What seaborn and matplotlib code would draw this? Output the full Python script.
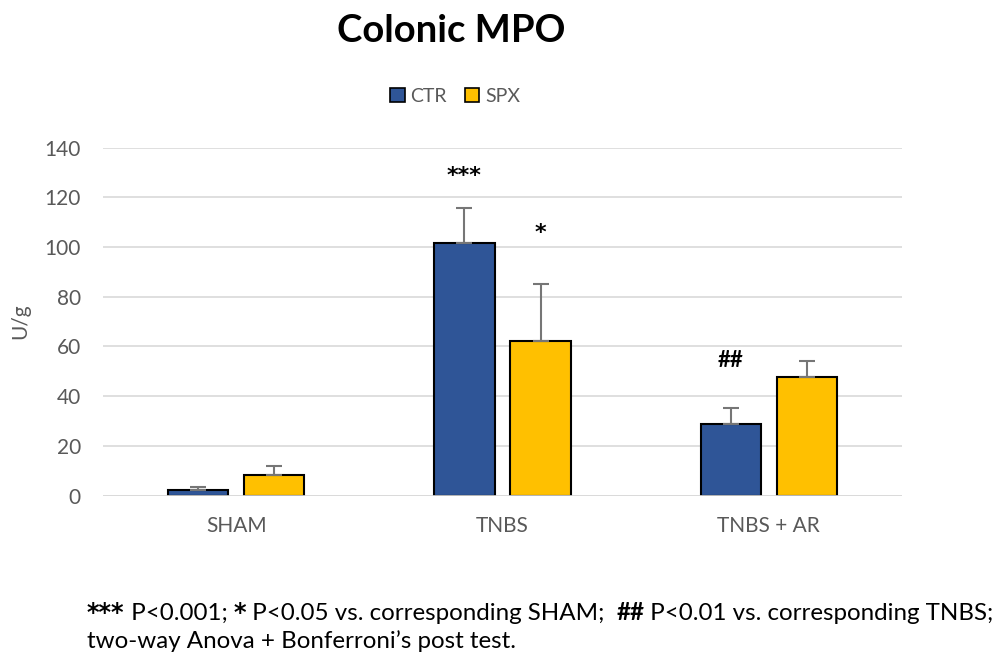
import matplotlib
matplotlib.use("Agg")
import matplotlib.pyplot as plt
import seaborn as sns
import pandas as pd
import numpy as np
from matplotlib.patches import Patch

groups = ["SHAM", "TNBS", "TNBS + AR"]
series = ["CTR", "SPX"]
ctr_mean = [2.4, 101.6, 28.8]
ctr_err = [1.0, 14.0, 6.6]
spx_mean = [8.2, 62.0, 47.7]
spx_err = [3.7, 23.0, 6.4]
yticks = [0, 20, 40, 60, 80, 100, 120, 140]
marks_ctr = ["", "***", "##"]
marks_spx = ["", "*", ""]

sns.set_theme(style="white")
plt.rcParams["font.family"] = ["Lato", "DejaVu Sans"]

df = pd.DataFrame({
    "group": groups * 2,
    "series": ["CTR"] * 3 + ["SPX"] * 3,
    "value": ctr_mean + spx_mean,
})

fig = plt.figure(figsize=(9.97, 6.6), dpi=100)
ax = fig.add_axes([103/997, 1-495.5/660, (902-103)/997, (495.5-147.5)/660])

palette = {"CTR": "#2F5597", "SPX": "#FFC000"}
sns.barplot(data=df, x="group", y="value", hue="series", hue_order=series,
            order=groups, palette=palette, errorbar=None, width=0.571, gap=0.21,
            saturation=1, edgecolor="black", linewidth=1.5, ax=ax, legend=False,
            zorder=3)

ax.set_ylim(0, 140)
ax.set_xlim(-0.5, 2.5)
ax.set_yticks(yticks)
ax.grid(axis="y", color="#d9d9d9", linewidth=1.2, zorder=0)
ax.grid(axis="x", visible=False)
for s in ax.spines.values():
    s.set_visible(False)
ax.tick_params(axis="both", length=0, labelsize=15, labelcolor="#595959")
ax.tick_params(axis="x", pad=15)
ax.tick_params(axis="y", pad=16)
ax.set_xlabel("")
ax.set_ylabel("U/g", fontsize=15, color="#595959", labelpad=10)
ax.axhline(0, color="#d9d9d9", linewidth=1.2, zorder=4)

# error bars (upper only) and significance marks at bar centers
patches = list(ax.patches)[:6]
means = ctr_mean + spx_mean
errs = ctr_err + spx_err
marks = marks_ctr + marks_spx
offset = {"***": 13.0, "*": 20.5, "##": 19.0}
for p, m, e, mk in zip(patches, means, errs, marks):
    xc = p.get_x() + p.get_width() / 2
    ax.errorbar(xc, m, yerr=[[0], [e]], fmt="none", ecolor="#767676",
                elinewidth=1.5, capsize=6, capthick=1.5, zorder=5)
    if mk:
        fam = ["DejaVu Sans"] if "*" in mk else ["Lato"]
        ax.text(xc, m + e + offset[mk], mk, ha="center", va="center",
                fontsize=16, fontweight="bold", color="black", family=fam)

fig.text(451/997, 1-31/660, "Colonic MPO", ha="center", va="center",
         fontsize=27.5, fontweight="bold", color="black")

handles = [Patch(facecolor=palette[s], edgecolor="black", linewidth=1.2, label=s)
           for s in series]
fig.legend(handles=handles, loc="center", bbox_to_anchor=(455/997, 1-96/660),
           ncol=2, frameon=False, fontsize=14, handlelength=0.75,
           handleheight=0.75, handletextpad=0.3, columnspacing=0.9,
           labelcolor="#595959")

# footnote with mixed bold
fig.canvas.draw()
renderer = fig.canvas.get_renderer()
pieces = [("***", "bold", "DejaVu Sans"), (" P<0.001; ", "normal", "Lato"),
          ("*", "bold", "DejaVu Sans"),
          (" P<0.05 vs. corresponding SHAM;  ", "normal", "Lato"),
          ("##", "bold", "Lato"),
          (" P<0.01 vs. corresponding TNBS;", "normal", "Lato")]
x = 87
y = 1 - 613/660
for txt, w, fam in pieces:
    t = fig.text(x/997, y, txt, ha="left", va="center",
                 fontsize=17.4, fontweight=w, color="black", family=[fam])
    bb = t.get_window_extent(renderer)
    x += bb.width
fig.text(87/997, 1 - 641/660, "two-way Anova + Bonferroni\u2019s post test.",
         ha="left", va="center", fontsize=17.4, color="black")

fig.savefig("out.png", dpi=100)
